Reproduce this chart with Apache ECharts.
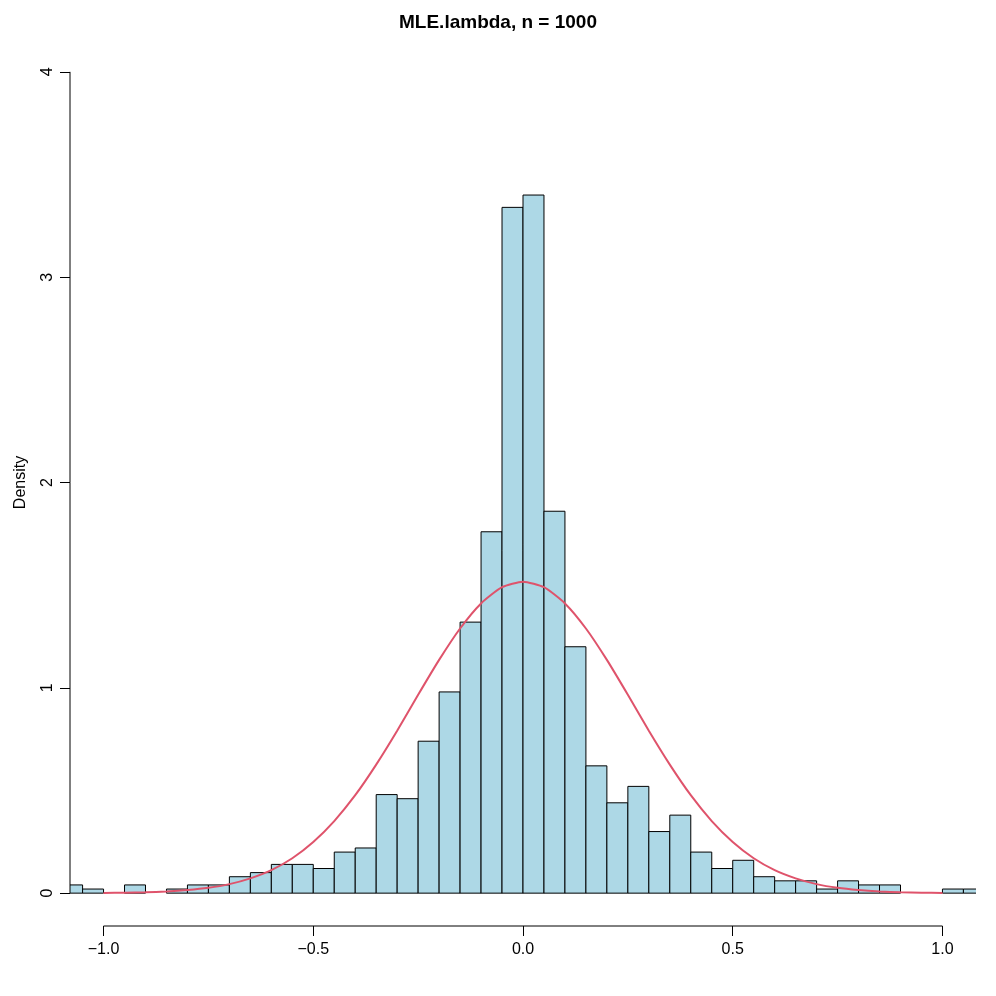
<!DOCTYPE html>
<html>
<head>
<meta charset="utf-8">
<script src="https://cdn.jsdelivr.net/npm/echarts@6.0.0/dist/echarts.min.js"></script>
<style>
  html, body { margin: 0; padding: 0; background: #fff; }
  #chart { width: 996px; height: 996px; }
</style>
</head>
<body>
<div id="chart"></div>
<script>
// histogram: left edge of each bin (width 0.05) and its density
const binLeft = [-1.10, -1.05, -1.00, -0.95, -0.90, -0.85, -0.80, -0.75, -0.70, -0.65, -0.60,
  -0.55, -0.50, -0.45, -0.40, -0.35, -0.30, -0.25, -0.20, -0.15, -0.10, -0.05,
  0.00, 0.05, 0.10, 0.15, 0.20, 0.25, 0.30, 0.35, 0.40, 0.45, 0.50,
  0.55, 0.60, 0.65, 0.70, 0.75, 0.80, 0.85, 0.90, 0.95, 1.00, 1.05]
const binWidth = 0.05
const density = [0.04, 0.02, 0, 0.04, 0, 0.02, 0.04, 0.04, 0.08, 0.10, 0.14,
  0.14, 0.12, 0.20, 0.22, 0.48, 0.46, 0.74, 0.98, 1.32, 1.76, 3.34,
  3.40, 1.86, 1.20, 0.62, 0.44, 0.52, 0.30, 0.38, 0.20, 0.12, 0.16,
  0.08, 0.06, 0.06, 0.02, 0.06, 0.04, 0.04, 0, 0, 0.02, 0.02]

// red density curve
const curveX = [-1.00, -0.95, -0.90, -0.85, -0.80, -0.75, -0.70, -0.65, -0.60, -0.55, -0.50,
  -0.45, -0.40, -0.35, -0.30, -0.25, -0.20, -0.15, -0.10, -0.05, 0.00,
  0.05, 0.10, 0.15, 0.20, 0.25, 0.30, 0.35, 0.40, 0.45, 0.50,
  0.55, 0.60, 0.65, 0.70, 0.75, 0.80, 0.85, 0.90, 0.95, 1.00]
const curveY = [0.001, 0.002, 0.004, 0.008, 0.015, 0.026, 0.044, 0.072, 0.112, 0.170, 0.249,
  0.351, 0.477, 0.626, 0.791, 0.966, 1.136, 1.289, 1.411, 1.490, 1.517,
  1.490, 1.411, 1.289, 1.136, 0.966, 0.791, 0.626, 0.477, 0.351, 0.249,
  0.170, 0.112, 0.072, 0.044, 0.026, 0.015, 0.008, 0.004, 0.002, 0.001]

const xTicks = [-1, -0.5, 0, 0.5, 1]
const xTickLabels = ['\u22121.0', '\u22120.5', '0.0', '0.5', '1.0']
const yTicks = [0, 1, 2, 3, 4]
const xRange = [-1.08, 1.08]
const yRange = [-0.16, 4.16]

const font = 'Liberation Sans, Arial, Helvetica, sans-serif'
const chart = echarts.init(document.getElementById('chart'))

const option = {
  animation: false,
  backgroundColor: '#fff',
  title: {
    text: 'MLE.lambda, n = 1000',
    left: 'center',
    top: 8,
    textStyle: {fontSize: 19, fontWeight: 'bold', color: '#000', fontFamily: font}
  },
  grid: {left: 70, right: 20, top: 39, bottom: 70},
  xAxis: {
    type: 'value',
    min: xRange[0],
    max: xRange[1],
    axisLine: {show: false, onZero: false},
    splitLine: {show: false},
    axisTick: {
      show: true,
      customValues: xTicks,
      length: 10,
      lineStyle: {color: '#000', width: 1}
    },
    axisLabel: {
      customValues: xTicks,
      margin: 16,
      fontSize: 16,
      color: '#000',
      fontFamily: font,
      formatter: function (v) {
        const i = xTicks.indexOf(v)
        return i >= 0 ? xTickLabels[i] : ''
      }
    }
  },
  yAxis: {
    type: 'value',
    min: yRange[0],
    max: yRange[1],
    name: 'Density',
    nameLocation: 'middle',
    nameRotate: 90,
    nameGap: 41,
    nameTextStyle: {fontSize: 16, color: '#000', fontFamily: font},
    axisLine: {show: false, onZero: false},
    splitLine: {show: false},
    axisTick: {
      show: true,
      customValues: yTicks,
      length: 10,
      lineStyle: {color: '#000', width: 1}
    },
    axisLabel: {
      customValues: yTicks,
      rotate: 90,
      margin: 14,
      fontSize: 16,
      color: '#000',
      fontFamily: font,
      formatter: function (v) { return String(v) }
    }
  },
  series: [
    {
      type: 'custom',
      clip: true,
      data: binLeft.map(function (x, i) { return [x, density[i]] }),
      renderItem: function (params, api) {
        const x0 = api.value(0)
        const h = api.value(1)
        if (!h) return
        const p0 = api.coord([x0, 0])
        const p1 = api.coord([x0 + binWidth, h])
        return {
          type: 'rect',
          shape: {x: p0[0], y: p1[1], width: p1[0] - p0[0], height: p0[1] - p1[1]},
          style: {fill: '#ADD8E6', stroke: '#000', lineWidth: 1}
        }
      },
      z: 2
    },
    {
      type: 'line',
      data: curveX.map(function (x, i) { return [x, curveY[i]] }),
      smooth: 0.2,
      showSymbol: false,
      symbol: 'none',
      lineStyle: {color: '#DF536B', width: 2},
      silent: true,
      z: 3
    },
    {
      // x axis line, only from first to last tick
      type: 'line',
      data: [[xTicks[0], yRange[0]], [xTicks[xTicks.length - 1], yRange[0]]],
      symbol: 'none',
      clip: false,
      lineStyle: {color: '#000', width: 1},
      silent: true,
      z: 4
    },
    {
      // y axis line, only from first to last tick
      type: 'line',
      data: [[xRange[0], yTicks[0]], [xRange[0], yTicks[yTicks.length - 1]]],
      symbol: 'none',
      clip: false,
      lineStyle: {color: '#000', width: 1},
      silent: true,
      z: 4
    }
  ]
}

chart.setOption(option)
window.addEventListener('resize', function () {
  chart.resize()
})
</script>
</body>
</html>
